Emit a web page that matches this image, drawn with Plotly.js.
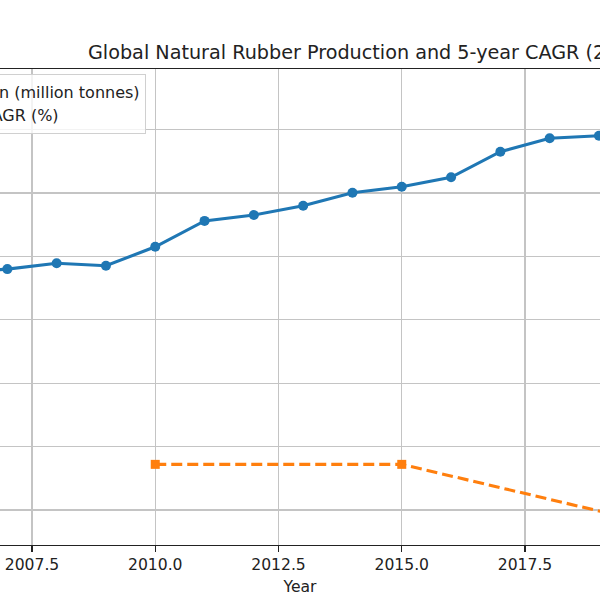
<!DOCTYPE html>
<html>
<head>
<meta charset="utf-8">
<script src="https://cdn.plot.ly/plotly-3.0.1.min.js"></script>
<style>html,body{margin:0;padding:0;background:#fff;}#chart{width:600px;height:600px;}</style>
</head>
<body>
<div id="chart"></div>
<script>
// Data
const years = [2006, 2007, 2008, 2009, 2010, 2011, 2012, 2013, 2014, 2015, 2016, 2017, 2018, 2019];
const production = [9.35, 9.50, 9.73, 9.63, 10.38, 11.40, 11.63, 12.00, 12.51, 12.75, 13.12, 14.13, 14.66, 14.76];
const cagrYears = [2010, 2015, 2020];
const cagr = [1.80, 1.80, -0.50];
const seriesNames = ["Production (million tonnes)", "5-year CAGR (%)"];
const titleText = "Global Natural Rubber Production and 5-year CAGR (2005-2020)";
const xTitle = "Year";

const FONT = "DejaVu Sans, sans-serif";
const traces = [
  {
    x: years, y: production, name: seriesNames[0], type: "scatter", mode: "lines+markers",
    line: {color: "#1f77b4", width: 3.1},
    marker: {color: "#1f77b4", size: 10, symbol: "circle"},
    legendgroup: "a"
  },
  {
    x: cagrYears, y: cagr, name: seriesNames[1], type: "scatter", mode: "lines+markers",
    line: {color: "#ff7f0e", width: 3.1, dash: "11px,5px"},
    marker: {color: "#ff7f0e", size: 9, symbol: "square"},
    legendgroup: "b"
  }
];

const layout = {
  width: 600, height: 600,
  margin: {l: 0, r: 0, t: 69, b: 55, autoexpand: false},
  paper_bgcolor: "#fff", plot_bgcolor: "#fff",
  font: {family: FONT, size: 15.6, color: "#222"},
  title: {
    text: titleText, x: 88/600, xanchor: "left", xref: "paper",
    y: 1 - 52/600, yanchor: "middle", yref: "container",
    font: {family: FONT, size: 19.2, color: "#222"}
  },
  xaxis: {
    range: [2006.851, 2019.021], tick0: 2005, dtick: 2.5, tickformat: ".1f",
    showgrid: true, gridcolor: "#c4c4c4", gridwidth: 1.2,
    showline: true, mirror: true, linecolor: "#222", linewidth: 1.2,
    ticks: "outside", ticklen: 5.5, tickwidth: 1.2, tickcolor: "#222",
    tickfont: {family: FONT, size: 15.6, color: "#222"},
    zeroline: false,
    title: {text: xTitle, standoff: 7, font: {family: FONT, size: 15.6, color: "#222"}}
  },
  yaxis: {
    range: [-1.38, 17.39], tick0: 0, dtick: 2.5,
    showgrid: true, gridcolor: "#c4c4c4", gridwidth: 1.2,
    showline: false, zeroline: false, showticklabels: false, ticks: ""
  },
  showlegend: true,
  legend: {
    x: 146/600, xanchor: "right", xref: "paper",
    y: 1 - 73.5/600, yanchor: "top", yref: "container",
    bgcolor: "rgba(255,255,255,0.8)", bordercolor: "#d0d0d0", borderwidth: 1,
    font: {family: FONT, size: 16.0, color: "#222"},
    traceorder: "grouped", tracegroupgap: 0
  }
};

Plotly.newPlot("chart", traces, layout, {staticPlot: true, displayModeBar: false});
</script>
</body>
</html>
